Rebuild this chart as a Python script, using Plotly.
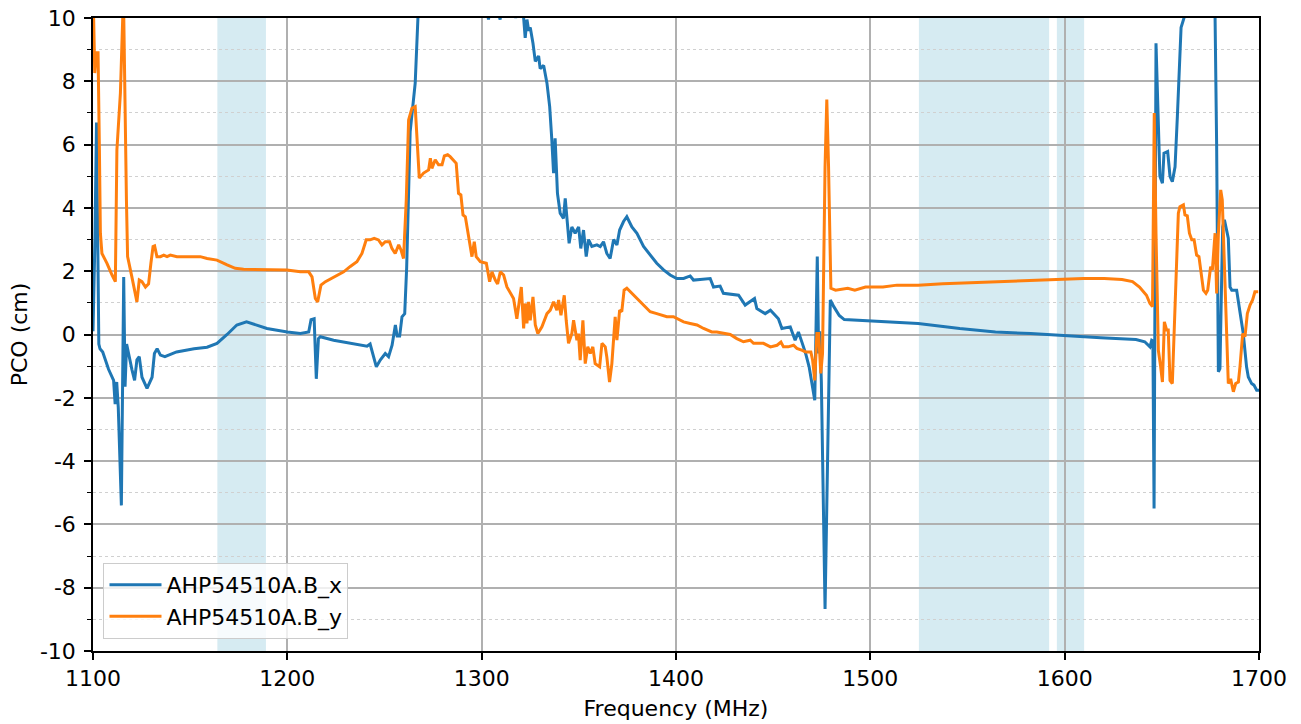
import plotly.graph_objects as go

# ---- data ----
freq_x = [1100.0, 1101.0, 1101.8, 1103.0, 1103.6, 1105.0, 1108.0, 1110.6, 1111.4, 1112.2, 1113.0, 1114.6,
          1115.8, 1116.5, 1117.3, 1118.2, 1120.0, 1121.4, 1122.6, 1123.8, 1125.2, 1127.8, 1130.4, 1131.6,
          1133.0, 1134.7, 1137.0, 1143.0, 1152.0, 1158.7, 1163.8, 1169.0, 1174.0, 1179.0, 1184.4, 1189.5,
          1200.0, 1206.7, 1211.0, 1212.2, 1213.8, 1214.9, 1216.0, 1217.0, 1223.8, 1232.4, 1241.0, 1242.6,
          1244.0, 1245.8, 1247.9, 1250.4, 1252.1, 1253.9, 1255.6, 1256.5, 1257.8, 1259.0, 1260.4, 1261.4,
          1263.2, 1265.8, 1267.2, 1269.0, 1290.0, 1302.0, 1303.5, 1305.0, 1308.0, 1309.5, 1310.5, 1315.0,
          1317.5, 1319.0, 1321.6, 1322.4, 1323.3, 1324.2, 1325.0, 1326.4, 1327.6, 1329.3, 1330.1, 1331.9,
          1333.6, 1335.0, 1336.1, 1337.0, 1337.8, 1338.4, 1339.0, 1340.4, 1342.1, 1343.0, 1343.8, 1345.0,
          1346.4, 1348.1, 1349.9, 1351.0, 1352.4, 1353.8, 1355.0, 1356.7, 1359.3, 1361.0, 1362.7, 1364.4,
          1366.1, 1367.9, 1369.6, 1371.0, 1373.0, 1374.7, 1377.3, 1379.9, 1383.3, 1386.7, 1390.1, 1393.6,
          1397.0, 1400.4, 1403.9, 1407.3, 1409.0, 1412.4, 1417.6, 1419.3, 1422.7, 1424.4, 1432.2, 1435.6,
          1438.2, 1440.4, 1441.6, 1445.9, 1448.6, 1452.7, 1454.5, 1458.8, 1461.3, 1463.0, 1465.0, 1466.7,
          1468.5, 1470.0, 1471.4, 1472.7, 1473.4, 1474.0, 1474.8, 1476.7, 1478.4, 1479.4, 1481.2, 1484.0,
          1486.6, 1492.0, 1500.0, 1524.6, 1546.0, 1564.4, 1582.5, 1595.0, 1618.6, 1636.7, 1641.2, 1643.9,
          1644.8, 1645.4, 1646.0, 1647.0, 1648.2, 1649.0, 1650.3, 1651.1, 1653.0, 1654.2, 1655.4, 1656.8,
          1658.0, 1659.0, 1659.9, 1661.4, 1663.0, 1675.0, 1677.4, 1678.2, 1679.1, 1679.9, 1680.5, 1681.3,
          1682.2, 1683.4, 1684.2, 1685.1, 1686.0, 1688.5, 1690.2, 1691.9, 1693.6, 1694.5, 1696.2, 1697.4,
          1698.8, 1700.0]
pco_x = [0.1, 3.0, 6.7, -0.3, -0.45, -0.55, -1.1, -1.45, -2.2, -1.5, -2.3, -5.4,
         1.82, -1.65, -0.3, -0.6, -1.1, -1.45, -0.8, -0.7, -1.35, -1.7, -1.35, -0.6,
         -0.45, -0.65, -0.7, -0.55, -0.45, -0.4, -0.28, 0.0, 0.3, 0.4, 0.3, 0.19,
         0.08, 0.03, 0.08, 0.47, 0.5, -1.4, -0.13, -0.07, -0.18, -0.28, -0.37, -0.3,
         -0.6, -1.02, -0.8, -0.6, -0.7, -0.34, 0.3, -0.05, -0.05, 0.56, 0.66, 2.1,
         6.4, 7.94, 10.0, 14.0, 18.0, 10.6, 9.95, 10.6, 10.3, 9.95, 10.6, 10.8,
         10.0, 10.5, 10.0, 9.37, 9.95, 9.6, 9.7, 9.2, 8.63, 8.8, 8.4, 8.5,
         7.94, 7.2, 6.15, 5.1, 6.2, 5.1, 4.46, 3.83, 3.67, 4.3, 3.8, 2.88,
         3.4, 3.2, 3.4, 2.72, 3.3, 2.46, 3.0, 2.78, 2.83, 2.78, 2.93, 2.56,
         2.4, 3.0, 2.83, 3.3, 3.57, 3.72, 3.4, 3.2, 2.78, 2.5, 2.25, 2.04,
         1.88, 1.77, 1.77, 1.85, 1.72, 1.74, 1.77, 1.5, 1.53, 1.3, 1.24, 0.93,
         1.05, 1.14, 0.82, 0.66, 0.77, 0.5, 0.19, 0.24, -0.18, 0.08, -0.28, -0.6,
         -1.02, -1.65, -2.08, 2.46, -0.6, 0.1, -1.5, -8.67, -3.0, 1.09, 0.88, 0.6,
         0.47, 0.45, 0.43, 0.35, 0.19, 0.08, 0.03, -0.02, -0.1, -0.16, -0.23, -0.39,
         -0.18, -0.2, -5.5, 9.2, 6.15, 5.0, 4.78, 5.73, 5.78, 5.0, 4.83, 5.3,
         6.9, 8.47, 9.7, 10.0, 12.0, 13.0, 10.0, 6.0, -1.18, -1.08, 1.2, 3.4,
         3.62, 3.2, 3.04, 1.5, 1.4, 1.4, 0.66, 0.03, -1.02, -1.34, -1.55, -1.6,
         -1.76, -1.76]

freq_y = [1100.0, 1100.9, 1101.7, 1102.6, 1103.3, 1103.8, 1104.6, 1107.2, 1109.8, 1111.5, 1112.3, 1114.1,
          1115.3, 1115.8, 1117.2, 1117.8, 1120.0, 1121.4, 1122.6, 1123.8, 1125.2, 1127.0, 1128.6, 1129.8,
          1130.9, 1131.7, 1132.9, 1134.7, 1136.4, 1138.1, 1139.8, 1143.2, 1148.4, 1155.2, 1158.7, 1163.8,
          1169.0, 1173.2, 1177.5, 1182.7, 1187.8, 1194.7, 1199.8, 1206.7, 1211.0, 1212.7, 1214.4, 1215.6,
          1217.3, 1219.6, 1223.8, 1229.0, 1232.4, 1235.8, 1238.4, 1240.6, 1242.6, 1244.7, 1246.9, 1248.7,
          1250.4, 1252.6, 1253.8, 1255.5, 1257.3, 1258.5, 1259.8, 1261.2, 1262.4, 1264.1, 1265.8, 1266.7,
          1267.9, 1270.1, 1272.7, 1273.6, 1274.4, 1276.1, 1277.8, 1279.6, 1280.8, 1282.5, 1283.8, 1286.9,
          1288.1, 1289.3, 1290.4, 1291.6, 1292.8, 1293.8, 1295.0, 1296.2, 1297.2, 1299.3, 1302.4, 1304.1,
          1305.3, 1307.0, 1308.2, 1309.6, 1311.3, 1313.0, 1314.7, 1316.4, 1318.1, 1319.3, 1320.4, 1321.6,
          1322.4, 1323.3, 1324.1, 1325.0, 1326.4, 1327.6, 1328.9, 1331.0, 1333.6, 1335.3, 1337.0, 1338.7,
          1339.6, 1340.8, 1342.5, 1343.5, 1344.7, 1346.4, 1347.3, 1349.0, 1349.8, 1350.7, 1352.1, 1353.3,
          1354.6, 1355.9, 1357.2, 1358.4, 1360.7, 1361.9, 1363.6, 1364.4, 1365.8, 1367.0, 1368.7, 1369.6,
          1371.0, 1372.1, 1373.3, 1374.7, 1377.3, 1379.9, 1383.3, 1386.7, 1390.1, 1395.3, 1398.7, 1401.0,
          1403.9, 1407.3, 1410.8, 1414.2, 1418.4, 1421.0, 1424.4, 1427.9, 1431.3, 1434.7, 1438.2, 1439.9,
          1445.0, 1448.6, 1452.0, 1454.0, 1455.3, 1457.7, 1460.5, 1462.2, 1465.0, 1466.7, 1469.4, 1470.3,
          1471.4, 1472.5, 1473.4, 1474.5, 1475.4, 1476.7, 1477.6, 1478.5, 1479.7, 1482.1, 1488.4, 1492.0,
          1497.5, 1506.5, 1513.7, 1524.6, 1537.3, 1555.3, 1573.4, 1591.5, 1600.5, 1609.6, 1620.4, 1629.5,
          1634.9, 1638.5, 1642.1, 1643.9, 1645.2, 1646.1, 1647.0, 1648.2, 1649.4, 1650.3, 1651.3, 1652.5,
          1653.3, 1654.2, 1655.4, 1656.3, 1657.3, 1658.5, 1659.3, 1661.1, 1661.9, 1663.1, 1664.2, 1665.4,
          1666.6, 1667.9, 1669.1, 1670.5, 1671.4, 1672.7, 1673.6, 1675.1, 1676.0, 1677.4, 1678.2, 1679.1,
          1680.3, 1681.1, 1682.0, 1683.4, 1684.2, 1685.4, 1686.8, 1688.0, 1689.4, 1690.2, 1691.6, 1692.8,
          1694.0, 1695.4, 1696.7, 1697.9, 1699.6]
pco_y = [11.0, 8.26, 8.9, 8.9, 5.83, 3.2, 2.56, 2.25, 1.88, 1.67, 5.83, 7.63,
         10.0, 10.2, 4.25, 2.46, 1.82, 1.4, 1.03, 1.72, 1.67, 1.5, 1.6, 2.25,
         2.78, 2.8, 2.46, 2.46, 2.51, 2.46, 2.51, 2.46, 2.46, 2.46, 2.4, 2.35,
         2.2, 2.09, 2.06, 2.06, 2.04, 2.04, 2.04, 1.98, 1.98, 1.82, 1.14, 1.03,
         1.56, 1.67, 1.82, 1.98, 2.15, 2.3, 2.56, 2.99, 2.99, 3.04, 2.99, 2.83,
         2.93, 2.93, 2.72, 2.56, 2.83, 2.67, 2.4, 4.25, 6.78, 7.15, 7.2, 6.15,
         4.94, 5.1, 5.2, 5.57, 5.25, 5.52, 5.36, 5.36, 5.64, 5.68, 5.62, 5.41,
         4.46, 4.41, 3.78, 3.72, 3.3, 2.83, 2.46, 2.93, 2.46, 2.3, 2.25, 1.67,
         1.98, 1.72, 1.6, 1.98, 1.88, 1.5, 1.3, 1.14, 0.5, 1.09, 1.5, 0.19,
         0.98, 0.35, 1.03, 0.45, 1.19, 0.3, 0.03, 0.24, 0.66, 0.77, 1.03, 0.77,
         1.09, 0.61, 1.24, 0.45, -0.28, 0.03, 0.45, -0.18, 0.03, -0.81, 0.45, -0.92,
         -0.39, -0.6, -0.39, -0.92, -1.02, -0.28, -0.39, -0.71, -1.5, -0.92, 0.56, -0.18,
         0.77, 0.72, 1.4, 1.46, 1.3, 1.14, 0.93, 0.72, 0.66, 0.56, 0.56, 0.5,
         0.4, 0.35, 0.3, 0.19, 0.08, 0.08, 0.03, 0.0, -0.13, -0.23, -0.18, -0.28,
         -0.28, -0.39, -0.34, -0.24, -0.39, -0.39, -0.34, -0.44, -0.5, -0.55, -0.55, -0.81,
         -1.45, 0.03, 0.03, -1.23, -0.6, 5.3, 7.42, 5.3, 1.46, 1.4, 1.46, 1.4,
         1.5, 1.5, 1.56, 1.56, 1.6, 1.64, 1.7, 1.72, 1.74, 1.77, 1.77, 1.74,
         1.67, 1.5, 1.24, 0.98, 0.88, 7.0, 3.2, -0.5, -1.02, -1.5, 0.4, 0.14,
         0.14, -1.45, -1.55, 0.0, 2.14, 3.83, 4.04, 4.1, 3.78, 3.75, 3.2, 2.99,
         2.99, 2.51, 2.46, 1.82, 1.4, 1.3, 1.4, 2.14, 2.04, 3.2, 1.3, 3.2,
         4.57, 4.25, 2.67, -0.28, -1.55, -1.4, -1.81, -1.55, -1.5, -1.02, 0.03, -0.07,
         0.66, 0.93, 1.09, 1.35, 1.35]

band_start = [1164, 1525, 1596]
band_end = [1189, 1592, 1610]

x_ticks = [1100, 1200, 1300, 1400, 1500, 1600, 1700]
y_ticks = [-10, -8, -6, -4, -2, 0, 2, 4, 6, 8, 10]
y_ticktext = [str(v) for v in y_ticks]

series_names = ["AHP54510A.B_x", "AHP54510A.B_y"]
series_colors = ["#1f77b4", "#ff7f0e"]

# ---- figure ----
fig = go.Figure()
for fx, py, name, col in [(freq_x, pco_x, series_names[0], series_colors[0]),
                          (freq_y, pco_y, series_names[1], series_colors[1])]:
    fig.add_trace(go.Scatter(x=fx, y=py, mode="lines", name=name,
                             line=dict(color=col, width=3)))

for s, e in zip(band_start, band_end):
    fig.add_shape(type="rect", xref="x", yref="paper", x0=s, x1=e, y0=0, y1=1,
                  fillcolor="rgba(173,216,230,0.5)", line=dict(width=0), layer="between")

font = "DejaVu Sans, Verdana, sans-serif"
fs = 22
fig.update_layout(
    width=1301, height=724,
    margin=dict(l=93, r=42, t=18, b=73, autoexpand=False),
    paper_bgcolor="white", plot_bgcolor="white",
    font=dict(family=font, size=fs, color="#000"),
    showlegend=True,
    legend=dict(x=0.009, y=0.019, xanchor="left", yanchor="bottom",
                bgcolor="rgba(255,255,255,0.8)", bordercolor="#cccccc", borderwidth=1,
                font=dict(size=fs), itemwidth=52, tracegroupgap=0),
)
fig.update_xaxes(
    range=[1100, 1700], tickvals=x_ticks, ticks="outside", ticklen=7, tickwidth=1.5,
    tickcolor="#000", showline=True, linecolor="#000", linewidth=1.5, mirror=True,
    showgrid=True, gridcolor="#b0b0b0", gridwidth=1.6, zeroline=False, automargin=False,
    ticklabeloverflow="allow",
    title=dict(text="Frequency (MHz)", standoff=10, font=dict(size=fs)), tickfont=dict(size=fs),
)
fig.update_yaxes(
    range=[-10, 10], tickvals=y_ticks, ticktext=y_ticktext, ticks="outside", ticklen=7,
    tickwidth=1.5, tickcolor="#000", showline=True, linecolor="#000", linewidth=1.5,
    mirror=True, showgrid=True, gridcolor="#b0b0b0", gridwidth=1.6, zeroline=False,
    automargin=False, ticklabelstandoff=4, ticklabeloverflow="allow",
    title=dict(text="PCO (cm)", standoff=6, font=dict(size=fs)), tickfont=dict(size=fs),
    minor=dict(dtick=1, tick0=0, ticks="outside", ticklen=4, tickwidth=1.2, tickcolor="#000",
               showgrid=True, gridcolor="#d0d0d0", gridwidth=1, griddash="dot"),
)

fig.write_html("out.html", config={"displayModeBar": False},
               post_script="document.body.style.margin='0';document.body.style.overflow='hidden';")
